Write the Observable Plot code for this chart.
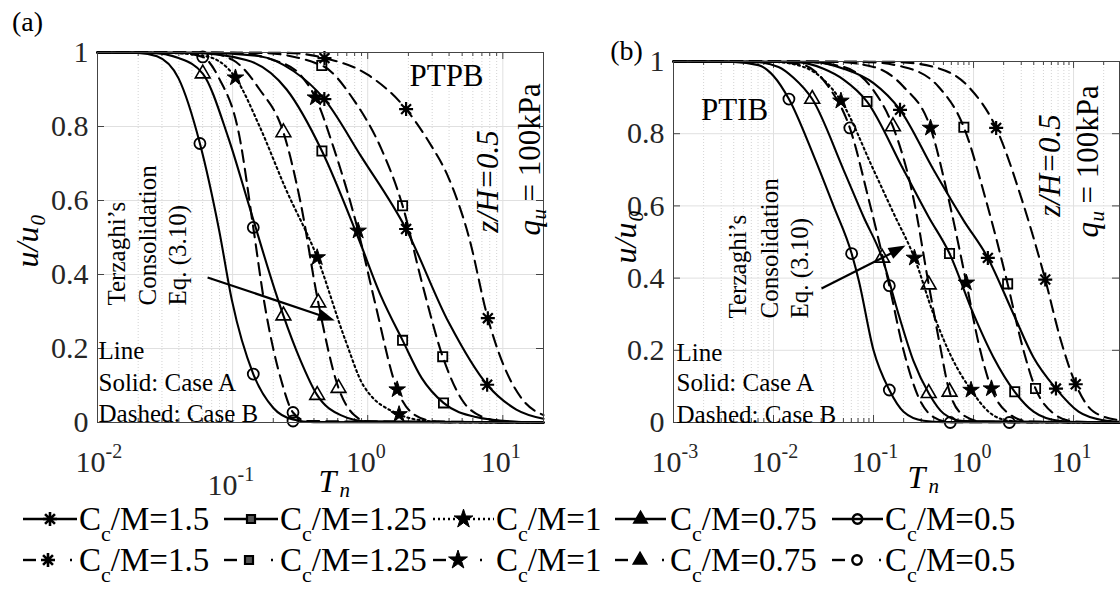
<!DOCTYPE html>
<html><head><meta charset="utf-8">
<script src="https://cdn.jsdelivr.net/npm/d3@7"></script>
<script src="https://cdn.jsdelivr.net/npm/@observablehq/plot@0.6"></script>
<style>
body{margin:0;background:#fff;}
#root{position:relative;width:1120px;height:595px;overflow:hidden;font-family:"Liberation Serif","Times New Roman",serif;background:#fff;}
.panel{position:absolute;top:0;width:560px;height:510px;}
#legend{position:absolute;left:0;top:492px;width:1120px;height:103px;}
</style></head><body>
<div id="root"><div id="pa" class="panel" style="left:0"></div><div id="pb" class="panel" style="left:560px"></div><div id="legend"></div></div>
<script>
// ---------- data (x values are log10(Tn)) ----------
const ccm = ["1.5", "1.25", "1", "0.75", "0.5"];
const yTicks = [0, 0.2, 0.4, 0.6, 0.8, 1];
const xDomA = [0.01, 20], xDomB = [0.001, 28.8];
const decadesA = [0.01, 0.1, 1, 10], decadesB = [0.001, 0.01, 0.1, 1, 10];
const xLabA = [0.01, 1, 10], expA = ["-2", "0", "1"];
const xLabA2 = [0.1], expA2 = ["-1"];
const xLabB = [0.001, 0.01, 0.1, 1, 10], expB = ["-3", "-2", "-1", "0", "1"];

// Panel (a) PTPB — Case A (solid / dotted)
const a_A150 = [[-2,1],[-1.2,0.999],[-0.8,0.99],[-0.55,0.95],[-0.321,0.874],[-0.05,0.72],[0.284,0.523],[0.6,0.27],[0.884,0.102],[1.1,0.035],[1.301,0.01]];
const a_A125 = [[-2,1],[-1.3,0.999],[-0.9,0.98],[-0.6,0.9],[-0.339,0.734],[-0.071,0.5],[0.1,0.34],[0.258,0.222],[0.4,0.12],[0.561,0.053],[0.8,0.015],[1.1,0.002],[1.301,0]];
const a_A100 = [[-2,1],[-1.5,0.999],[-1.2,0.99],[-0.979,0.932],[-0.8,0.8],[-0.611,0.635],[-0.374,0.446],[-0.163,0.22],[-0.032,0.1],[0.232,0.022],[0.416,0.005],[0.6,0.001],[1.301,0]];
const a_A075 = [[-2,1],[-1.6,0.999],[-1.4,0.985],[-1.221,0.943],[-1.032,0.77],[-0.874,0.581],[-0.689,0.36],[-0.624,0.289],[-0.5,0.17],[-0.374,0.074],[-0.2,0.02],[0,0.003],[1.301,0]];
const a_A050 = [[-2,1],[-1.7,0.999],[-1.56,0.99],[-1.4,0.93],[-1.242,0.754],[-1.1,0.52],[-1.005,0.33],[-0.847,0.131],[-0.7,0.04],[-0.553,0.008],[-0.4,0.001],[1.301,0]];
// Panel (a) — Case B (dashed)
const a_B150 = [[-2,1],[-0.6,0.999],[-0.32,0.985],[0,0.94],[0.284,0.847],[0.45,0.76],[0.6,0.66],[0.75,0.5],[0.889,0.282],[1.0,0.16],[1.15,0.06],[1.301,0.02]];
const a_B125 = [[-2,1],[-0.8,0.999],[-0.34,0.965],[-0.1,0.87],[0.1,0.74],[0.258,0.586],[0.4,0.38],[0.555,0.178],[0.7,0.06],[0.85,0.015],[1.0,0.003],[1.301,0]];
const a_B100 = [[-2,1],[-1.0,0.999],[-0.7,0.98],[-0.5,0.94],[-0.387,0.878],[-0.25,0.74],[-0.071,0.518],[0.05,0.33],[0.218,0.089],[0.35,0.02],[0.5,0.003],[1.301,0]];
const a_B075 = [[-2,1],[-1.2,0.999],[-1.0,0.98],[-0.8,0.9],[-0.624,0.784],[-0.5,0.6],[-0.366,0.324],[-0.216,0.093],[-0.1,0.02],[0,0.003],[1.301,0]];
const a_B050 = [[-2,1],[-1.4,0.999],[-1.221,0.988],[-1.1,0.93],[-0.953,0.78],[-0.847,0.527],[-0.768,0.33],[-0.637,0.11],[-0.553,0.027],[-0.45,0.004],[1.301,0]];
// Panel (a) markers
const a_A150m = [[-0.321,0.874],[0.284,0.523],[0.884,0.102]];
const a_A125m = [[-0.339,0.734],[0.258,0.222],[0.561,0.053]];
const a_A100m = [[-0.979,0.932],[-0.374,0.446],[0.232,0.022]];
const a_A075m = [[-1.221,0.943],[-0.624,0.289],[-0.374,0.074]];
const a_A050m = [[-1.242,0.754],[-0.847,0.131],[-0.553,0.004]];
const a_B150m = [[-0.32,0.985],[0.284,0.847],[0.889,0.282]];
const a_B125m = [[-0.34,0.965],[0.258,0.586],[0.555,0.178]];
const a_B100m = [[-0.387,0.878],[-0.071,0.518],[0.218,0.089]];
const a_B075m = [[-0.624,0.784],[-0.366,0.324],[-0.216,0.093]];
const a_B050m = [[-1.221,0.988],[-0.847,0.527],[-0.553,0.027]];

// Panel (b) PTIB — Case A
const b_A150 = [[-3,1],[-1.6,0.999],[-1.3,0.98],[-1.0,0.94],[-0.735,0.866],[-0.4,0.7],[-0.1,0.56],[0.143,0.456],[0.4,0.3],[0.6,0.18],[0.824,0.094],[1.05,0.03],[1.3,0.006],[1.46,0.002]];
const b_A125 = [[-3,1],[-1.8,0.999],[-1.5,0.98],[-1.3,0.95],[-1.065,0.889],[-0.7,0.7],[-0.45,0.57],[-0.24,0.468],[0,0.3],[0.2,0.18],[0.412,0.085],[0.6,0.03],[0.85,0.005],[1.1,0.001],[1.46,0]];
const b_A100 = [[-3,1],[-2.0,0.999],[-1.7,0.985],[-1.5,0.95],[-1.326,0.891],[-1.0,0.7],[-0.8,0.58],[-0.591,0.456],[-0.4,0.3],[-0.2,0.17],[-0.025,0.09],[0.15,0.03],[0.35,0.005],[0.6,0.001],[1.46,0]];
const b_A075 = [[-3,1],[-2.2,0.999],[-1.95,0.985],[-1.8,0.955],[-1.613,0.896],[-1.3,0.7],[-1.1,0.57],[-0.914,0.456],[-0.75,0.3],[-0.6,0.17],[-0.448,0.081],[-0.3,0.025],[-0.1,0.004],[1.46,0]];
const b_A050 = [[-3,1],[-2.4,0.999],[-2.15,0.99],[-2.0,0.96],[-1.846,0.896],[-1.6,0.74],[-1.4,0.6],[-1.219,0.468],[-1.147,0.393],[-1.0,0.2],[-0.842,0.09],[-0.7,0.03],[-0.5,0.005],[-0.3,0.001],[1.46,0]];
// Panel (b) — Case B
const b_B150 = [[-3,1],[-0.8,0.999],[-0.4,0.985],[-0.05,0.93],[0.226,0.816],[0.48,0.62],[0.717,0.396],[0.87,0.23],[1.022,0.106],[1.2,0.03],[1.46,0.006]];
const b_B125 = [[-3,1],[-1.1,0.999],[-0.7,0.985],[-0.35,0.93],[-0.097,0.818],[0.12,0.62],[0.341,0.384],[0.48,0.22],[0.62,0.094],[0.8,0.025],[1.0,0.003],[1.46,0]];
const b_B100 = [[-3,1],[-1.4,0.999],[-1.0,0.985],[-0.7,0.93],[-0.43,0.816],[-0.25,0.62],[-0.072,0.387],[0.05,0.22],[0.179,0.094],[0.35,0.025],[0.55,0.003],[1.46,0]];
const b_B075 = [[-3,1],[-1.7,0.999],[-1.3,0.985],[-1.0,0.92],[-0.806,0.82],[-0.6,0.62],[-0.448,0.382],[-0.34,0.22],[-0.24,0.085],[-0.1,0.02],[0.1,0.002],[1.46,0]];
const b_B050 = [[-3,1],[-2.0,0.999],[-1.7,0.99],[-1.45,0.93],[-1.237,0.816],[-1.05,0.62],[-0.842,0.379],[-0.7,0.2],[-0.55,0.07],[-0.4,0.015],[-0.233,0.001],[1.46,0]];
// Panel (b) markers
const b_A150m = [[-0.735,0.866],[0.143,0.456],[0.824,0.094]];
const b_A125m = [[-1.065,0.889],[-0.24,0.468],[0.412,0.085]];
const b_A100m = [[-1.326,0.891],[-0.591,0.456],[-0.025,0.09]];
const b_A075m = [[-1.613,0.896],[-0.914,0.456],[-0.448,0.081]];
const b_A050m = [[-1.846,0.896],[-1.219,0.468],[-0.842,0.09],[0.358,0]];
const b_B150m = [[0.226,0.816],[0.717,0.396],[1.022,0.106]];
const b_B125m = [[-0.097,0.818],[0.341,0.384],[0.62,0.094]];
const b_B100m = [[-0.43,0.816],[-0.072,0.387],[0.179,0.094]];
const b_B075m = [[-0.806,0.82],[-0.448,0.382],[-0.24,0.085]];
const b_B050m = [[-1.237,0.816],[-0.842,0.379],[-0.233,0]];

// annotation arrows: [T, u] of start, line end, tip
const a_arrow = [[0.0653, 0.392], [0.497, 0.284], [0.570, 0.276]];
const b_arrow = [[0.0302, 0.371], [0.178, 0.479], [0.209, 0.490]];

// ---------- symbols ----------
const asterisk8 = {draw(ctx, size) {
  const r = Math.sqrt(size / Math.PI), d = r * Math.SQRT1_2;
  ctx.moveTo(-r, 0); ctx.lineTo(r, 0); ctx.moveTo(0, -r); ctx.lineTo(0, r);
  ctx.moveTo(-d, -d); ctx.lineTo(d, d); ctx.moveTo(-d, d); ctx.lineTo(d, -d);
}};
const arrowHead = {draw(ctx, size) {
  const L = Math.sqrt(size / Math.PI);
  ctx.moveTo(0, 0); ctx.lineTo(-L, -L * 0.36); ctx.lineTo(-L, L * 0.36); ctx.closePath();
}};
const mk = [
  {sym: asterisk8, r: 7, fill: "none", sw: 2.2},
  {sym: "square", r: 5.2, fill: "none", sw: 1.8},
  {sym: "star", r: 5.2, fill: "black", sw: 1},
  {sym: "triangle", r: 5.5, fill: "none", sw: 1.6},
  {sym: "circle", r: 5.5, fill: "none", sw: 1.8}
];
const FONT = "'Liberation Serif','Times New Roman',serif";
const toPts = arr => arr.map(([lt, u]) => ({T: 10 ** lt, u}));

function txt(str, dx, dy, o = {}) {
  return Plot.text([str], {text: d => d, frameAnchor: o.frameAnchor || "top-left", dx, dy,
    fontSize: o.fs || 25, fontStyle: o.italic ? "italic" : "normal", rotate: o.rotate || 0,
    textAnchor: o.anchor || "start", lineAnchor: o.line || "bottom", fill: o.fill || "black"});
}

function panel(o) {
  const W = 560, H = 510;
  const pw = W - o.ml - o.mr, ph = H - o.mt - o.mb;
  const all = d3.scaleLog().domain(o.xDom).ticks();
  const minor = all.filter(t => !o.decades.some(d => Math.abs(d - t) < 1e-12));
  const marks = [
    Plot.ruleX(minor, {stroke: "#c8c8c8", strokeWidth: 0.8, strokeDasharray: "1,2"}),
    Plot.ruleX(o.decades, {stroke: "#e0e0e0", strokeWidth: 1}),
    Plot.ruleY(yTicks.slice(1, -1), {stroke: "#e0e0e0", strokeWidth: 1}),
    Plot.tickX(o.decades, {x: d => d, insetTop: ph - 7, stroke: "#444"}),
    Plot.tickX(o.decades, {x: d => d, insetBottom: ph - 7, stroke: "#444"}),
    Plot.tickX(minor, {x: d => d, insetTop: ph - 4, stroke: "#444"}),
    Plot.tickX(minor, {x: d => d, insetBottom: ph - 4, stroke: "#444"}),
    Plot.tickY(yTicks, {y: d => d, insetRight: pw - 7, stroke: "#444"}),
    Plot.tickY(yTicks, {y: d => d, insetLeft: pw - 7, stroke: "#444"})
  ];
  o.curves.forEach((c, i) => {
    const k = i % 5, caseB = i >= 5;
    const dash = caseB ? "12,7" : (k === 2 ? "2,3.2" : null);
    marks.push(Plot.line(toPts(c), {x: "T", y: "u", stroke: "black", strokeWidth: 2.1, strokeDasharray: dash, curve: "monotone-x"}));
  });
  o.markers.forEach((m, i) => {
    const s = mk[i % 5];
    marks.push(Plot.dot(toPts(m), {x: "T", y: "u", symbol: s.sym, r: s.r, fill: s.fill, stroke: "black", strokeWidth: s.sw}));
  });
  const [s0, s1, s2] = o.arrow;
  marks.push(
    Plot.link([0], {x1: () => s0[0], y1: () => s0[1], x2: () => s1[0], y2: () => s1[1], stroke: "black", strokeWidth: 2.2}),
    Plot.dot([0], {x: () => s2[0], y: () => s2[1], symbol: arrowHead, r: 17, fill: "black", stroke: "none", rotate: o.arrowAngle}),
    Plot.frame({stroke: "#444", strokeWidth: 1}),
    Plot.axisY({ticks: yTicks, tickSize: 0, tickPadding: 9, fontSize: 30, label: null, tickFormat: d => String(d), fill: "#262626"}),
    Plot.text(o.xLab, {x: d => d, y: () => 0, text: () => "10", textAnchor: "end", lineAnchor: "bottom", dx: 8, dy: 49, fontSize: 30, fill: "#262626"}),
    Plot.text(o.xLab, {x: d => d, y: () => 0, text: (d, i) => o.exp[i], textAnchor: "start", lineAnchor: "bottom", dx: 8, dy: 35, fontSize: 20, fill: "#262626"})
  );
  if (o.xLab2) marks.push(
    Plot.text(o.xLab2, {x: d => d, y: () => 0, text: () => "10", textAnchor: "end", lineAnchor: "bottom", dx: 5, dy: 72, fontSize: 30, fill: "#262626"}),
    Plot.text(o.xLab2, {x: d => d, y: () => 0, text: (d, i) => o.exp2[i], textAnchor: "start", lineAnchor: "bottom", dx: 5, dy: 58, fontSize: 20, fill: "#262626"})
  );
  marks.push(...o.notes);
  return Plot.plot({
    width: W, height: H, marginLeft: o.ml, marginRight: o.mr, marginTop: o.mt, marginBottom: o.mb,
    x: {type: "log", domain: o.xDom, axis: null},
    y: {domain: [0, 1]},
    style: {fontFamily: FONT, fontSize: "30px", background: "transparent", color: "#262626", overflow: "visible"},
    marks
  });
}

function notes(p) {
  return [
    txt(p.tag, p.tagDx, p.tagDy, {fs: 28, anchor: "middle", line: "middle"}),
    txt(p.name, p.nameDx, p.nameDy, {fs: 31, anchor: "middle", line: "middle"}),
    txt("z/H=0.5", p.zDx, p.zDy, {fs: 31, italic: true, rotate: -90, anchor: "middle", line: "middle"}),
    txt("q", p.qDx, p.qDy, {fs: 31, italic: true, rotate: -90}),
    txt("u", p.qDx + 6, p.qDy - 16, {fs: 21, italic: true, rotate: -90}),
    txt("= 100kPa", p.qDx, p.qDy - 34, {fs: 31, rotate: -90}),
    txt("Terzaghi’s", p.tzDx[0], p.tzDy, {fs: 25, rotate: -90}),
    txt("Consolidation", p.tzDx[1], p.tzDy, {fs: 25, rotate: -90}),
    txt("Eq. (3.10)", p.tzDx[2], p.tzDy, {fs: 25, rotate: -90}),
    txt("Line", p.lnDx, p.lnDy[0], {fs: 25}),
    txt("Solid: Case A", p.lnDx, p.lnDy[1], {fs: 25}),
    txt("Dashed: Case B", p.lnDx, p.lnDy[2], {fs: 25}),
    txt("u/u", p.yDx, p.yDy, {fs: 32, italic: true, rotate: -90}),
    txt("0", p.yDx + 7, p.yDy - 42, {fs: 21, italic: true, rotate: -90}),
    txt("T", p.tDx, p.tDy, {fs: 32, italic: true, frameAnchor: "bottom-left"}),
    txt("n", p.tDx + 21, p.tDy + 5, {fs: 21, italic: true, frameAnchor: "bottom-left"})
  ];
}

const plotA = panel({
  ml: 97, mr: 17, mt: 52, mb: 88, xDom: xDomA, decades: decadesA,
  xLab: xLabA, exp: expA, xLab2: xLabA2, exp2: expA2,
  curves: [a_A150, a_A125, a_A100, a_A075, a_A050, a_B150, a_B125, a_B100, a_B075, a_B050],
  markers: [a_A150m, a_A125m, a_A100m, a_A075m, a_A050m, a_B150m, a_B125m, a_B100m, a_B075m, a_B050m],
  arrow: a_arrow, arrowAngle: 18.7,
  notes: notes({tag: "(a)", tagDx: -70, tagDy: -30, name: "PTPB", nameDx: 349, nameDy: 24,
    zDx: 391, zDy: 129, qDx: 442, qDy: 183, tzDx: [27, 58, 88], tzDy: 253,
    lnDx: 1, lnDy: [306, 338, 369], yDx: -60, yDy: 215, tDx: 221, tDy: 69})
});
const plotB = panel({
  ml: 113, mr: 1, mt: 61, mb: 88, xDom: xDomB, decades: decadesB,
  xLab: xLabB, exp: expB,
  curves: [b_A150, b_A125, b_A100, b_A075, b_A050, b_B150, b_B125, b_B100, b_B075, b_B050],
  markers: [b_A150m, b_A125m, b_A100m, b_A075m, b_A050m, b_B150m, b_B125m, b_B100m, b_B075m, b_B050m],
  arrow: b_arrow, arrowAngle: -27.1,
  notes: notes({tag: "(b)", tagDx: -47, tagDy: -10, name: "PTIB", nameDx: 61, nameDy: 49,
    zDx: 377, zDy: 104, qDx: 424, qDy: 176, tzDx: [72, 104, 134], tzDy: 257,
    lnDx: 3, lnDy: [299, 329, 361], yDx: -38, yDy: 202, tDx: 234, tDy: 65})
});
document.getElementById("pa").appendChild(plotA);
document.getElementById("pb").appendChild(plotB);

// ---------- legend ----------
const itemX = [23, 224, 433, 615, 832], swW = [54, 54, 61, 51, 51], textX = [79, 280, 496, 670, 885];
const lgSym = [
  {t: asterisk8, size: Math.PI * 49, fill: "none", sw: 2.6},
  {t: d3.symbolSquare, size: 64, fill: "#555", sw: 2.2},
  {t: d3.symbolStar, size: 110, fill: "black", sw: 1},
  {t: d3.symbolTriangle, size: 80, fill: "black", sw: 1.5},
  {t: d3.symbolCircle, size: 70, fill: "none", sw: 2.4}
];
const svg = d3.select("#legend").append("svg").attr("width", 1120).attr("height", 103)
  .style("font-family", FONT);
[27, 68].forEach((cy, row) => {
  ccm.forEach((v, i) => {
    const g = svg.append("g");
    const x0 = itemX[i], w = swW[i], s = lgSym[i];
    if (row === 0) {
      g.append("line").attr("x1", x0).attr("x2", x0 + w).attr("y1", cy).attr("y2", cy)
        .attr("stroke", "black").attr("stroke-width", 2.4).attr("stroke-dasharray", i === 2 ? "2,3" : null);
      g.append("path").attr("d", d3.symbol(s.t, s.size)()).attr("transform", `translate(${x0 + w / 2},${cy})`)
        .attr("fill", s.fill).attr("stroke", "black").attr("stroke-width", s.sw);
    } else {
      g.append("line").attr("x1", x0).attr("x2", x0 + 13).attr("y1", cy).attr("y2", cy).attr("stroke", "black").attr("stroke-width", 2.4);
      g.append("line").attr("x1", x0 + 47).attr("x2", x0 + 49).attr("y1", cy).attr("y2", cy).attr("stroke", "black").attr("stroke-width", 2.4);
      g.append("path").attr("d", d3.symbol(s.t, s.size)()).attr("transform", `translate(${x0 + 25},${cy})`)
        .attr("fill", s.fill).attr("stroke", "black").attr("stroke-width", s.sw);
    }
    const t = g.append("text").attr("x", textX[i]).attr("y", cy + 11).attr("font-size", 33).attr("fill", "black");
    t.append("tspan").text("C");
    t.append("tspan").attr("font-size", 22).attr("dy", 11).text("c");
    t.append("tspan").attr("dy", -11).text("/M=" + v);
  });
});
</script></body></html>
